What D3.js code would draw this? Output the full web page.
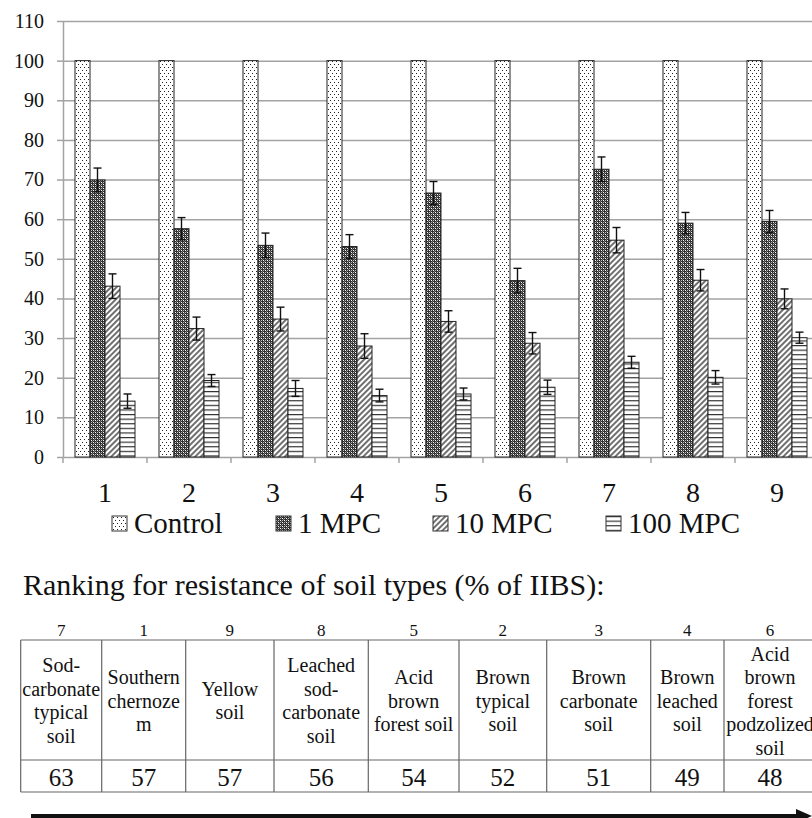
<!DOCTYPE html>
<html>
<head>
<meta charset="utf-8">
<script src="https://cdn.jsdelivr.net/npm/d3@7"></script>
<style>
  body { margin: 0; background: #fff; }
  svg { display: block; }
  svg text { font-family: "Liberation Serif", "Times New Roman", serif !important; }
</style>
</head>
<body>
<svg id="chart" width="812" height="818"></svg>
<script>
// chart data
const categories = ["1", "2", "3", "4", "5", "6", "7", "8", "9"];
const seriesNames = ["Control", "1 MPC", "10 MPC", "100 MPC"];
const control = [100, 100, 100, 100, 100, 100, 100, 100, 100];
const mpc1 = [69.9, 57.6, 53.4, 53.1, 66.6, 44.5, 72.6, 59.0, 59.4];
const mpc10 = [43.1, 32.4, 34.8, 28.0, 34.2, 28.7, 54.7, 44.6, 39.9];
const mpc100 = [14.1, 19.3, 17.3, 15.5, 15.9, 17.6, 23.9, 20.1, 30.1];
const err1 = [3.0, 2.8, 3.1, 3.0, 2.9, 3.1, 3.1, 2.7, 2.8];
const err10 = [3.1, 2.9, 3.0, 3.1, 2.7, 2.7, 3.2, 2.7, 2.5];
const err100 = [1.8, 1.5, 2.0, 1.6, 1.5, 1.8, 1.5, 1.7, 1.4];
const yTicks = [0, 10, 20, 30, 40, 50, 60, 70, 80, 90, 100, 110];

// ranking table data
const tableTitle = "Ranking for resistance of soil types (% of IIBS):";
const rankOrder = ["7", "1", "9", "8", "5", "2", "3", "4", "6"];
const soilNames = [
    ["Sod-", "carbonate", "typical", "soil"],
    ["Southern", "chernoze", "m"],
    ["Yellow", "soil"],
    ["Leached", "sod-", "carbonate", "soil"],
    ["Acid", "brown", "forest soil"],
    ["Brown", "typical", "soil"],
    ["Brown", "carbonate", "soil"],
    ["Brown", "leached", "soil"],
    ["Acid", "brown", "forest", "podzolized", "soil"]
];
const iibs = ["63", "57", "57", "56", "54", "52", "51", "49", "48"];

const seriesValues = [control, mpc1, mpc10, mpc100];
const seriesErrors = [null, err1, err10, err100];

const svg = d3.select("#chart");
const W = 812;
const plot = {left: 63, top: 21, bottom: 457, step: 84};

// patterns
const defs = svg.append("defs");
const pDots = defs.append("pattern").attr("id", "p0").attr("patternUnits", "userSpaceOnUse")
    .attr("width", 4).attr("height", 6);
pDots.append("rect").attr("width", 4).attr("height", 6).attr("fill", "#fff");
pDots.append("rect").attr("x", 1).attr("y", 1).attr("width", 1).attr("height", 1).attr("fill", "#222");
pDots.append("rect").attr("x", 3).attr("y", 4).attr("width", 1).attr("height", 1).attr("fill", "#222");

const pSphere = defs.append("pattern").attr("id", "p1").attr("patternUnits", "userSpaceOnUse")
    .attr("width", 4).attr("height", 4);
pSphere.append("rect").attr("width", 4).attr("height", 4).attr("fill", "#303030");
[[0, 0, "#fff"], [2, 2, "#fff"], [0, 2, "#bbb"], [2, 0, "#bbb"], [1, 1, "#777"], [3, 3, "#777"]]
    .forEach(([px, py, c]) => pSphere.append("rect").attr("x", px).attr("y", py)
        .attr("width", 1).attr("height", 1).attr("fill", c));

const pDiag = defs.append("pattern").attr("id", "p2").attr("patternUnits", "userSpaceOnUse")
    .attr("width", 4).attr("height", 4).attr("patternTransform", "rotate(45)");
pDiag.append("rect").attr("width", 4).attr("height", 4).attr("fill", "#fff");
pDiag.append("line").attr("x1", 1).attr("y1", 0).attr("x2", 1).attr("y2", 4)
    .attr("stroke", "#222").attr("stroke-width", 1.3);

const pHoriz = defs.append("pattern").attr("id", "p3").attr("patternUnits", "userSpaceOnUse")
    .attr("width", 4).attr("height", 4.6);
pHoriz.append("rect").attr("width", 4).attr("height", 4.6).attr("fill", "#fff");
pHoriz.append("line").attr("x1", 0).attr("y1", 0.6).attr("x2", 4).attr("y2", 0.6)
    .attr("stroke", "#222").attr("stroke-width", 1.1);

// scales
const y = d3.scaleLinear().domain([0, 110]).range([plot.bottom, plot.top]);
const x0 = d3.scaleBand().domain(categories)
    .range([plot.left, plot.left + plot.step * categories.length]).padding(0);
const x1 = d3.scaleBand().domain(seriesNames).range([0, x0.bandwidth()]).paddingOuter(0.8).paddingInner(0);

// gridlines
svg.append("g")
    .attr("transform", `translate(${plot.left},0)`)
    .call(d3.axisLeft(y).tickValues(yTicks.slice(1)).tickSize(-(W - plot.left)).tickFormat(""))
    .call(g => g.select(".domain").remove())
    .call(g => g.selectAll("line").attr("stroke", "#a3a3a3").attr("stroke-width", 1.5));

// y axis
svg.append("g")
    .attr("transform", `translate(${plot.left},0)`)
    .call(d3.axisLeft(y).tickValues(yTicks).tickSize(6).tickPadding(13).tickSizeOuter(0))
    .call(g => g.select(".domain").attr("stroke", "#a3a3a3").attr("stroke-width", 1.5))
    .call(g => g.selectAll("line").attr("stroke", "#a3a3a3").attr("stroke-width", 1.5))
    .call(g => g.selectAll("text").attr("font-size", 20).attr("fill", "#111"));

// x axis
const xAxis = svg.append("g")
    .attr("transform", `translate(0,${plot.bottom})`)
    .call(d3.axisBottom(x0).tickSize(0).tickSizeOuter(0))
    .call(g => g.select(".domain").attr("stroke", "#a3a3a3").attr("stroke-width", 1.5))
    .call(g => g.selectAll("text").attr("y", 45).attr("dy", 0)
        .attr("font-size", 28).attr("fill", "#111"));
xAxis.selectAll(".bound")
    .data(categories)
    .enter().append("line")
    .attr("x1", d => x0(d)).attr("x2", d => x0(d))
    .attr("y1", 0).attr("y2", 6)
    .attr("stroke", "#a3a3a3").attr("stroke-width", 1.5);

// bars
const groups = svg.selectAll(".grp")
    .data(categories)
    .enter().append("g")
    .attr("class", "grp")
    .attr("transform", d => `translate(${x0(d)},0)`);

groups.selectAll("rect")
    .data((c, i) => seriesNames.map((s, k) => ({s, k, v: seriesValues[k][i]})))
    .enter().append("rect")
    .attr("x", d => x1(d.s))
    .attr("y", d => y(d.v))
    .attr("width", x1.bandwidth())
    .attr("height", d => y(0) - y(d.v))
    .attr("fill", d => `url(#p${d.k})`)
    .attr("stroke", "#222")
    .attr("stroke-width", 1);

// error bars
const errData = [];
categories.forEach((c, i) => {
    seriesNames.forEach((s, k) => {
        if (seriesErrors[k]) errData.push({c, s, v: seriesValues[k][i], e: seriesErrors[k][i]});
    });
});
const eb = svg.selectAll(".err")
    .data(errData)
    .enter().append("g")
    .attr("class", "err")
    .attr("transform", d => `translate(${x0(d.c) + x1(d.s) + x1.bandwidth() / 2},0)`)
    .attr("stroke", "#111").attr("stroke-width", 1.4);
eb.append("line").attr("x1", 0).attr("x2", 0)
    .attr("y1", d => y(d.v - d.e)).attr("y2", d => y(d.v + d.e));
eb.append("line").attr("x1", -4).attr("x2", 4)
    .attr("y1", d => y(d.v + d.e)).attr("y2", d => y(d.v + d.e));
eb.append("line").attr("x1", -4).attr("x2", 4)
    .attr("y1", d => y(d.v - d.e)).attr("y2", d => y(d.v - d.e));

// legend
const legendX = [112, 276, 433, 606];
const legend = svg.selectAll(".leg")
    .data(seriesNames)
    .enter().append("g")
    .attr("class", "leg")
    .attr("transform", (d, i) => `translate(${legendX[i]},516)`);
legend.append("rect")
    .attr("width", 15).attr("height", 15)
    .attr("fill", (d, i) => `url(#p${i})`)
    .attr("stroke", "#333").attr("stroke-width", 1);
legend.append("text")
    .attr("x", 22).attr("y", 17)
    .attr("font-size", 29).attr("fill", "#111")
    .text(d => d);

// ranking table
svg.append("text")
    .attr("x", 23).attr("y", 595)
    .attr("font-size", 30).attr("fill", "#111")
    .text(tableTitle);

const colEdges = [20.7, 101.7, 185.7, 274, 368.3, 459, 546.7, 650.7, 724, 816];
const tbl = {top: 640, mid: 760, bottom: 792};
const colCenter = i => (colEdges[i] + colEdges[i + 1]) / 2;

const tg = svg.append("g").attr("stroke", "#666").attr("stroke-width", 1.2);
[tbl.top, tbl.mid, tbl.bottom].forEach(yy => {
    tg.append("line").attr("x1", colEdges[0]).attr("x2", colEdges[colEdges.length - 1])
        .attr("y1", yy).attr("y2", yy);
});
colEdges.forEach(xx => {
    tg.append("line").attr("x1", xx).attr("x2", xx).attr("y1", tbl.top).attr("y2", tbl.bottom);
});

svg.selectAll(".rank")
    .data(rankOrder)
    .enter().append("text")
    .attr("x", (d, i) => colCenter(i)).attr("y", 636)
    .attr("text-anchor", "middle").attr("font-size", 17).attr("fill", "#111")
    .text(d => d);

const lineH = 23.5;
const cells = svg.selectAll(".cell")
    .data(soilNames)
    .enter().append("text")
    .attr("text-anchor", "middle").attr("font-size", 20).attr("fill", "#111");
cells.each(function(lines, i) {
    const first = 707.5 - (lines.length - 1) * lineH / 2;
    d3.select(this).selectAll("tspan")
        .data(lines)
        .enter().append("tspan")
        .attr("x", colCenter(i))
        .attr("y", (l, j) => first + j * lineH)
        .text(l => l);
});

svg.selectAll(".val")
    .data(iibs)
    .enter().append("text")
    .attr("x", (d, i) => colCenter(i)).attr("y", 786)
    .attr("text-anchor", "middle").attr("font-size", 25).attr("fill", "#111")
    .text(d => d);

// arrow
svg.append("line")
    .attr("x1", 31).attr("x2", 800).attr("y1", 816).attr("y2", 816)
    .attr("stroke", "#111").attr("stroke-width", 4);
svg.append("path")
    .attr("d", "M796,809 L812,816 L796,823 Z")
    .attr("fill", "#111");
</script>
</body>
</html>
